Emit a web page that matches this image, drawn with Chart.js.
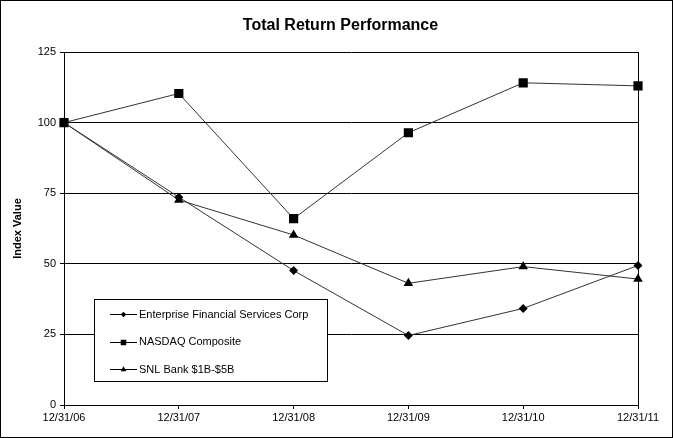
<!DOCTYPE html>
<html>
<head>
<meta charset="utf-8">
<script src="https://cdn.jsdelivr.net/npm/chart.js@4"></script>
<style>
  html, body { margin: 0; padding: 0; background: #fff; }
  #wrap { width: 673px; height: 438px; }
</style>
</head>
<body>
<div id="wrap"><canvas id="perfChart" width="673" height="438"></canvas></div>
<script>
// data
const dates = ['12/31/06', '12/31/07', '12/31/08', '12/31/09', '12/31/10', '12/31/11'];
const enterprise = [100, 73.6, 47.6, 24.6, 34.2, 49.4];
const nasdaq = [100, 110.3, 66.0, 96.4, 114.1, 113.0];
const snlBank = [100, 72.6, 60.2, 43.1, 49.0, 44.6];
const yTicks = [0, 25, 50, 75, 100, 125];
const chartTitle = 'Total Return Performance';

const FONT = '"Liberation Sans", Arial, sans-serif';

// white background, frame around the whole picture, title, plot box right edge
const framePlugin = {
  id: 'frame',
  beforeDraw(chart) {
    const ctx = chart.ctx;
    ctx.save();
    ctx.fillStyle = '#fff';
    ctx.fillRect(0, 0, chart.width, chart.height);
    ctx.fillStyle = '#000';
    ctx.font = 'bold 16px ' + FONT;
    ctx.textAlign = 'center';
    ctx.textBaseline = 'middle';
    ctx.fillText(chartTitle, chart.width / 2 + 4, 26);
    ctx.restore();
  },
  afterDraw(chart) {
    const ctx = chart.ctx;
    const a = chart.chartArea;
    ctx.save();
    ctx.strokeStyle = '#000';
    ctx.lineWidth = 1;
    ctx.strokeRect(0.5, 0.5, chart.width - 1, chart.height - 1);
    ctx.beginPath();
    ctx.moveTo(Math.round(a.right) + 0.5, a.top);
    ctx.lineTo(Math.round(a.right) + 0.5, a.bottom);
    ctx.stroke();
    ctx.restore();
  }
};

// legend box drawn inside the plot, lower left
const boxLegend = {
  id: 'boxLegend',
  afterDatasetsDraw(chart) {
    const ctx = chart.ctx;
    const x0 = 94, y0 = 299, w = 233, h = 82;
    ctx.save();
    ctx.fillStyle = '#fff';
    ctx.fillRect(x0, y0, w, h);
    ctx.strokeStyle = '#000';
    ctx.lineWidth = 1;
    ctx.strokeRect(x0 + 0.5, y0 + 0.5, w, h);
    chart.data.datasets.forEach((ds, i) => {
      const y = 314 + i * 27.5;
      ctx.strokeStyle = '#000';
      ctx.beginPath();
      ctx.moveTo(110, Math.round(y) + 0.5);
      ctx.lineTo(137, Math.round(y) + 0.5);
      ctx.stroke();
      ctx.fillStyle = '#000';
      Chart.helpers.drawPoint(ctx, {
        pointStyle: ds.pointStyle,
        radius: ds.pointRadius * 0.6,
        borderWidth: 0
      }, 123.5, Math.round(y) + 0.5);
      ctx.fillStyle = '#000';
      ctx.font = '11px ' + FONT;
      ctx.textBaseline = 'middle';
      ctx.textAlign = 'left';
      ctx.fillText(ds.label, 139, y + 0.5);
    });
    ctx.restore();
  }
};

const ctx = document.getElementById('perfChart').getContext('2d');
const chart = new Chart(ctx, {
  type: 'line',
  data: {
    labels: dates,
    datasets: [
      {
        label: 'Enterprise Financial Services Corp',
        data: enterprise,
        borderColor: '#333',
        backgroundColor: '#000',
        borderWidth: 1,
        pointStyle: 'rectRot',
        pointRadius: 4.5,
        pointBorderWidth: 0,
        tension: 0
      },
      {
        label: 'NASDAQ Composite',
        data: nasdaq,
        borderColor: '#333',
        backgroundColor: '#000',
        borderWidth: 1,
        pointStyle: 'rect',
        pointRadius: 6.5,
        pointBorderWidth: 0,
        tension: 0
      },
      {
        label: 'SNL Bank $1B-$5B',
        data: snlBank,
        borderColor: '#333',
        backgroundColor: '#000',
        borderWidth: 1,
        pointStyle: 'triangle',
        pointRadius: 5.5,
        pointBorderWidth: 0,
        tension: 0
      }
    ]
  },
  options: {
    responsive: false,
    animation: false,
    layout: { padding: { left: 0, right: 35, top: 52, bottom: 0 } },
    plugins: {
      legend: { display: false },
      tooltip: { enabled: false },
      title: { display: false }
    },
    scales: {
      x: {
        offset: false,
        grid: {
          drawOnChartArea: false,
          drawTicks: true,
          tickLength: 4,
          color: '#000'
        },
        border: { color: '#000', width: 1 },
        ticks: {
          color: '#000',
          font: { family: FONT, size: 11 },
          maxRotation: 0,
          autoSkip: false,
          padding: 2
        },
        afterFit(scale) { scale.height = 33; }
      },
      y: {
        min: 0,
        max: 125,
        afterBuildTicks(scale) { scale.ticks = yTicks.map(v => ({ value: v })); },
        grid: {
          color: '#000',
          lineWidth: 1,
          tickLength: 4
        },
        border: { color: '#000', width: 1 },
        ticks: {
          color: '#000',
          font: { family: FONT, size: 11 },
          padding: 4
        },
        title: {
          display: true,
          text: 'Index Value',
          color: '#000',
          font: { family: FONT, size: 11, weight: 'bold' },
          padding: { top: 11, bottom: 0 }
        },
        afterFit(scale) { scale.width = 64; }
      }
    }
  },
  plugins: [framePlugin, boxLegend]
});
</script>
</body>
</html>
